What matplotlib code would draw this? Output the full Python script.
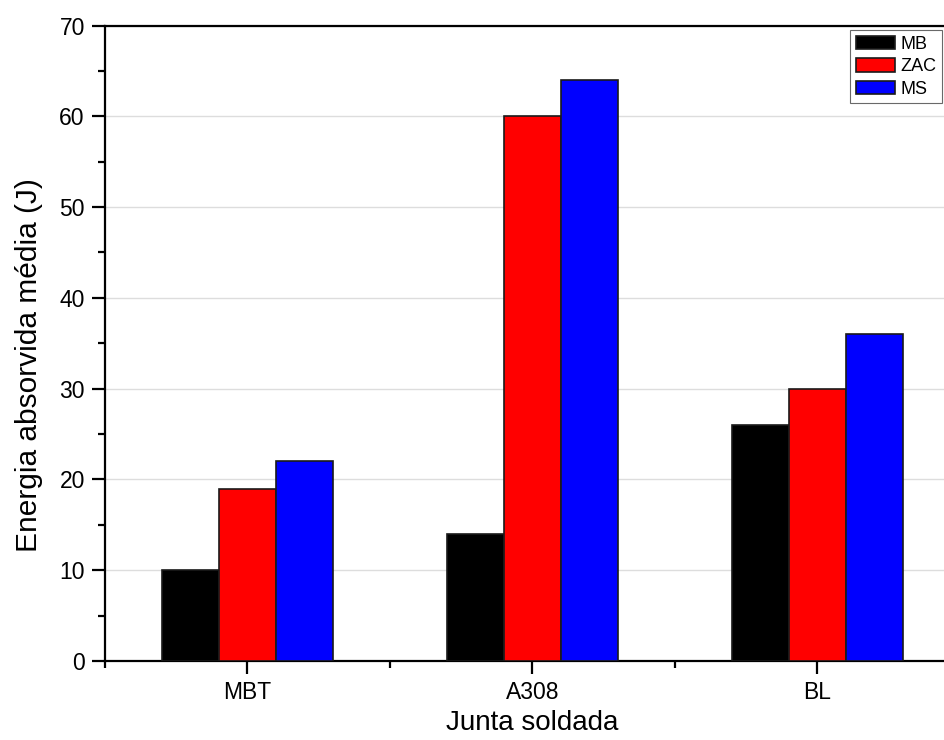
import matplotlib
matplotlib.use("Agg")
import matplotlib.pyplot as plt
import numpy as np
from matplotlib.ticker import MultipleLocator, FixedLocator

plt.rcParams['font.family'] = ['Liberation Sans', 'DejaVu Sans']

joints = ["MBT", "A308", "BL"]
series_names = ["MB", "ZAC", "MS"]
mb = [10, 14, 26]
zac = [19, 60, 30]
ms = [22, 64, 36]
colors = ["#000000", "#ff0000", "#0000ff"]

W, H = 945, 740
fig = plt.figure(figsize=(W / 100, H / 100), dpi=100)
left, right, top, bottom = 105, 959.5, 25.5, 661
ax = fig.add_axes([left / W, 1 - bottom / H, (right - left) / W, (bottom - top) / H])

x = np.arange(len(joints))
width = 0.2
for i, (vals, name, c) in enumerate(zip([mb, zac, ms], series_names, colors)):
    ax.bar(x + (i - 1) * width, vals, width, color=c, edgecolor="#1a1a1a",
           linewidth=1.2, label=name, zorder=3)

ax.set_xlim(-0.5, 2.5)
ax.set_ylim(0, 70)
ax.set_xticks(x)
ax.set_xticklabels(joints)
ax.xaxis.set_minor_locator(FixedLocator([-0.5, 0.5, 1.5]))
ax.yaxis.set_major_locator(MultipleLocator(10))
ax.yaxis.set_minor_locator(MultipleLocator(5))

ax.grid(axis="y", which="major", color="#dddddd", linewidth=1, zorder=0)
ax.set_axisbelow(True)

for s in ax.spines.values():
    s.set_linewidth(1.6)
    s.set_color("black")

ax.tick_params(axis="both", which="major", direction="out", length=9.5, width=1.6,
               labelsize=16.5, pad=5)
ax.tick_params(axis="both", which="minor", direction="out", length=5, width=1.6)

ax.set_xlabel("Junta soldada", fontsize=20, labelpad=4)
ax.set_ylabel("Energia absorvida média (J)", fontsize=21.5)
ax.yaxis.set_label_coords(-0.0726, 0.466)

leg = ax.legend(loc="upper right", bbox_to_anchor=((942 - left) / (right - left), 1 - 4.5 / (bottom - top)),
                fontsize=13, frameon=True, fancybox=False, handlelength=2.15, handleheight=0.75,
                handletextpad=0.3, borderpad=0.32, labelspacing=0.3, borderaxespad=0)
leg.get_frame().set_edgecolor("#444444")
leg.get_frame().set_linewidth(0.8)

fig.savefig("out.png", dpi=100)
